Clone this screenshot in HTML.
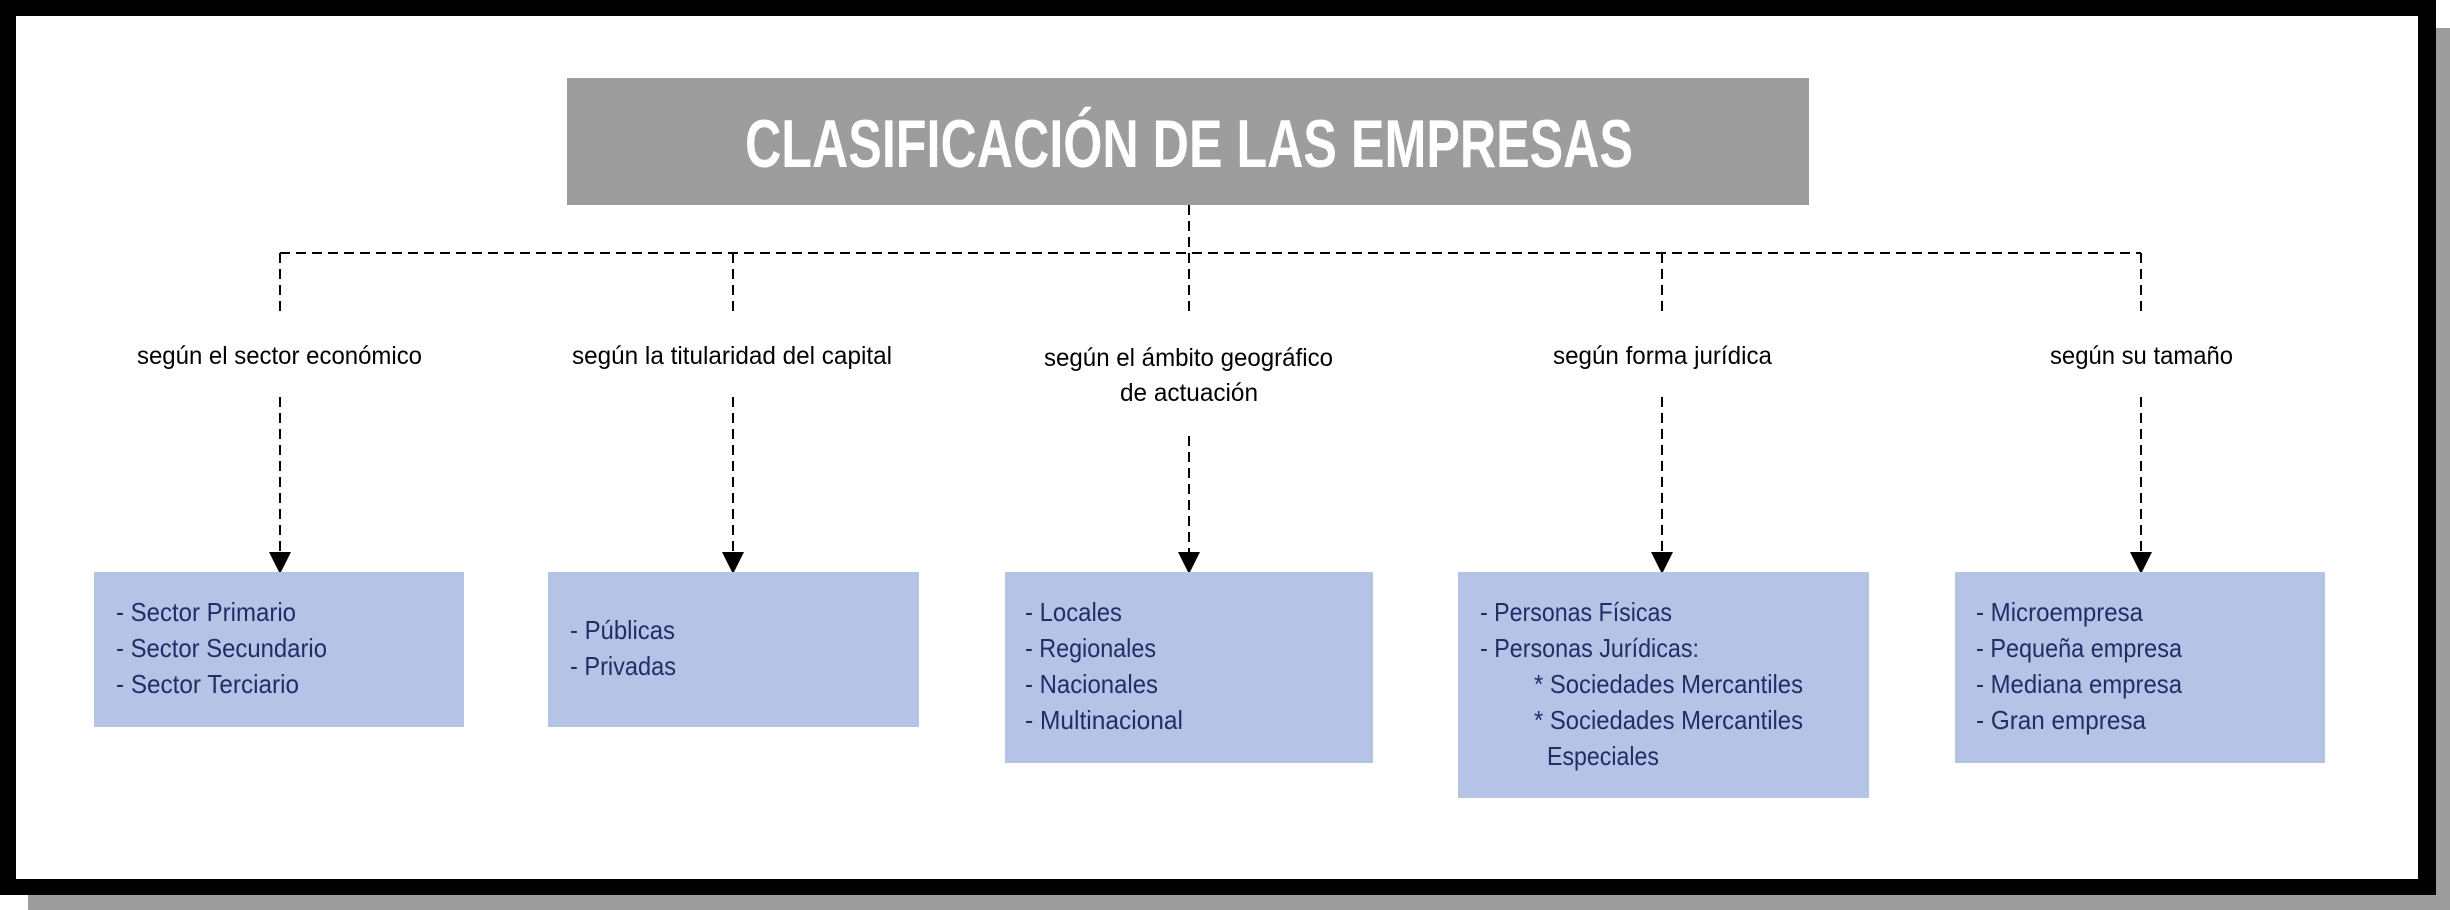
<!DOCTYPE html>
<html><head><meta charset="utf-8"><style>html,body{margin:0;padding:0;background:#fff}svg{display:block}</style></head>
<body>
<svg width="2450" height="910" viewBox="0 0 2450 910" xmlns="http://www.w3.org/2000/svg">
<rect x="28" y="28" width="2422" height="882" fill="#9e9d9e"/>
<rect x="0" y="0" width="2436" height="895" fill="#000"/>
<rect x="16" y="16" width="2402" height="863" fill="#fff"/>
<rect x="567" y="78" width="1242" height="127" fill="#9e9d9e"/>
<text x="745" y="167" font-family="Liberation Sans, sans-serif" font-weight="bold" font-size="68" fill="#fff" textLength="888" lengthAdjust="spacingAndGlyphs">CLASIFICACIÓN DE LAS EMPRESAS</text>
<g stroke="#000" stroke-width="2" fill="none" stroke-dasharray="10 6">
<path d="M1189 205 V253"/>
<path d="M280 253 H2141"/>
<path d="M280 253 V315 M733 253 V315 M1189 253 V315 M1662 253 V315 M2141 253 V315"/>
<path d="M280 397 V553 M733 397 V553 M1189 436 V553 M1662 397 V553 M2141 397 V553"/>
</g>
<g fill="#000">
<path d="M269 552 H291 L280 574 Z"/>
<path d="M722 552 H744 L733 574 Z"/>
<path d="M1178 552 H1200 L1189 574 Z"/>
<path d="M1651 552 H1673 L1662 574 Z"/>
<path d="M2130 552 H2152 L2141 574 Z"/>
</g>
<g font-family="Liberation Sans, sans-serif" font-size="25" fill="#000" lengthAdjust="spacingAndGlyphs">
<text x="137" y="364" textLength="285" lengthAdjust="spacingAndGlyphs">según el sector económico</text>
<text x="572" y="364" textLength="320" lengthAdjust="spacingAndGlyphs">según la titularidad del capital</text>
<text x="1044" y="366" textLength="289" lengthAdjust="spacingAndGlyphs">según el ámbito geográfico</text>
<text x="1120" y="401" textLength="138" lengthAdjust="spacingAndGlyphs">de actuación</text>
<text x="1553" y="364" textLength="219" lengthAdjust="spacingAndGlyphs">según forma jurídica</text>
<text x="2050" y="364" textLength="183" lengthAdjust="spacingAndGlyphs">según su tamaño</text>
</g>
<g fill="#b4c3e6">
<rect x="94" y="572" width="370" height="155"/>
<rect x="548" y="572" width="371" height="155"/>
<rect x="1005" y="572" width="368" height="191"/>
<rect x="1458" y="572" width="411" height="226"/>
<rect x="1955" y="572" width="370" height="191"/>
</g>
<g font-family="Liberation Sans, sans-serif" font-size="26" fill="#1f2f66">
<text x="116" y="621" textLength="180" lengthAdjust="spacingAndGlyphs">- Sector Primario</text>
<text x="116" y="657" textLength="211" lengthAdjust="spacingAndGlyphs">- Sector Secundario</text>
<text x="116" y="693" textLength="183" lengthAdjust="spacingAndGlyphs">- Sector Terciario</text>
<text x="570" y="639" textLength="105" lengthAdjust="spacingAndGlyphs">- Públicas</text>
<text x="570" y="675" textLength="106" lengthAdjust="spacingAndGlyphs">- Privadas</text>
<text x="1025" y="621" textLength="97" lengthAdjust="spacingAndGlyphs">- Locales</text>
<text x="1025" y="657" textLength="131" lengthAdjust="spacingAndGlyphs">- Regionales</text>
<text x="1025" y="693" textLength="133" lengthAdjust="spacingAndGlyphs">- Nacionales</text>
<text x="1025" y="729" textLength="158" lengthAdjust="spacingAndGlyphs">- Multinacional</text>
<text x="1480" y="621" textLength="192" lengthAdjust="spacingAndGlyphs">- Personas Físicas</text>
<text x="1480" y="657" textLength="219" lengthAdjust="spacingAndGlyphs">- Personas Jurídicas:</text>
<text x="1534" y="693" textLength="269" lengthAdjust="spacingAndGlyphs">* Sociedades Mercantiles</text>
<text x="1534" y="729" textLength="269" lengthAdjust="spacingAndGlyphs">* Sociedades Mercantiles</text>
<text x="1547" y="765" textLength="112" lengthAdjust="spacingAndGlyphs">Especiales</text>
<text x="1976" y="621" textLength="167" lengthAdjust="spacingAndGlyphs">- Microempresa</text>
<text x="1976" y="657" textLength="206" lengthAdjust="spacingAndGlyphs">- Pequeña empresa</text>
<text x="1976" y="693" textLength="206" lengthAdjust="spacingAndGlyphs">- Mediana empresa</text>
<text x="1976" y="729" textLength="170" lengthAdjust="spacingAndGlyphs">- Gran empresa</text>
</g>
</svg>
</body></html>
